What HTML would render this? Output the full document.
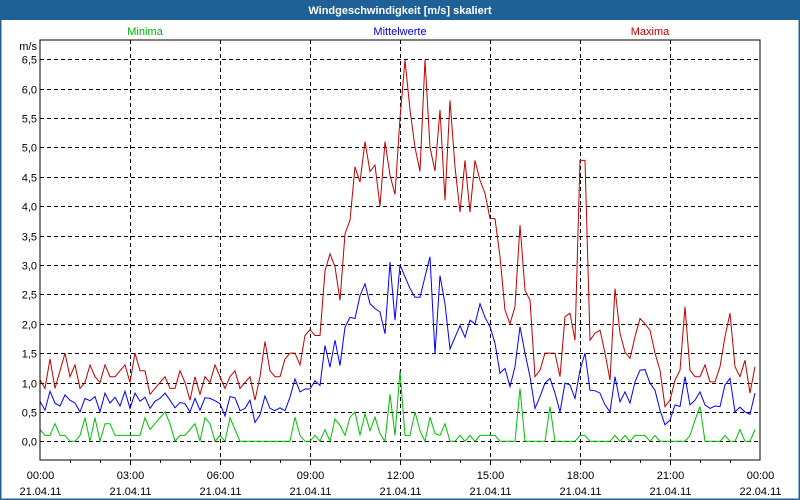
<!DOCTYPE html>
<html><head><meta charset="utf-8"><style>
body{margin:0;background:#fff;}
#wrap{position:relative;width:800px;height:500px;overflow:hidden;background:#fff;}
svg text{font-family:"Liberation Sans",sans-serif;font-size:11px;}
</style></head><body>
<div id="wrap">
<svg id="chart" width="800" height="500" xmlns="http://www.w3.org/2000/svg">
<rect x="0" y="0" width="800" height="500" fill="#fff" stroke="#1f6096" stroke-width="3"/>
<rect x="0" y="0" width="800" height="20" fill="#1f6096"/>
<text x="400" y="14" text-anchor="middle" fill="#fff" font-weight="bold">Windgeschwindigkeit [m/s] skaliert</text>
<text x="145" y="35" text-anchor="middle" fill="#00b000">Minima</text>
<text x="400" y="35" text-anchor="middle" fill="#0000e0">Mittelwerte</text>
<text x="650" y="35" text-anchor="middle" fill="#c00000">Maxima</text>
<text x="37" y="50" text-anchor="end" fill="#000">m/s</text>
<g id="grid"></g>
<g id="series"></g>
<rect x="40" y="40" width="720" height="420" fill="none" stroke="#000" stroke-width="1"/>
</svg>
</div>
<script>
const yTicks=[0,0.5,1,1.5,2,2.5,3,3.5,4,4.5,5,5.5,6,6.5];
const yTickLabels=["0,0","0,5","1,0","1,5","2,0","2,5","3,0","3,5","4,0","4,5","5,0","5,5","6,0","6,5"];
const xTickHours=[0,3,6,9,12,15,18,21,24];
const xTickTimes=["00:00","03:00","06:00","09:00","12:00","15:00","18:00","21:00","00:00"];
const xTickDates=["21.04.11","21.04.11","21.04.11","21.04.11","21.04.11","21.04.11","21.04.11","21.04.11","22.04.11"];
const maxima=[1.05,0.9,1.4,0.9,1.2,1.5,1.1,1.3,0.9,1.0,1.3,1.1,1.0,1.3,1.1,1.1,1.2,1.3,1.0,1.5,1.2,1.2,0.8,0.9,1.0,1.1,0.9,0.9,1.2,1.0,0.7,1.1,0.8,1.1,1.0,1.3,1.1,0.9,1.1,1.2,0.9,1.0,1.1,0.7,1.1,1.7,1.2,1.1,1.1,1.4,1.5,1.5,1.3,1.8,1.9,1.8,1.8,
2.9,3.19,2.97,2.4,3.53,3.76,4.67,4.41,5.1,4.59,4.7,4.0,5.1,4.53,4.2,5.5,6.49,5.64,5.0,4.59,6.49,5.0,4.6,5.64,4.1,5.8,4.67,3.9,4.78,3.9,4.78,4.44,4.22,3.79,3.79,3.14,2.23,2.0,2.29,3.68,2.57,2.4,1.1,1.21,1.5,1.5,1.5,1.1,2.12,2.18,1.72,4.78,4.78,1.72,1.84,1.89,1.5,1.04,2.6,1.84,1.52,1.41,1.78,2.09,2.0,1.89,1.5,1.21,0.59,0.7,1.04,1.21,2.29,1.21,1.1,1.1,1.3,1.01,1.01,1.27,1.78,2.18,1.27,1.1,1.38,0.82,1.27];
const mittelwerte=[0.68,0.53,0.85,0.65,0.6,0.79,0.7,0.65,0.5,0.73,0.69,0.76,0.5,0.82,0.65,0.75,0.6,0.85,0.56,0.82,0.68,0.75,0.56,0.68,0.73,0.82,0.7,0.57,0.66,0.64,0.5,0.73,0.53,0.74,0.73,0.69,0.64,0.43,0.76,0.74,0.52,0.56,0.7,0.32,0.45,0.77,0.56,0.52,0.57,0.52,0.75,1.06,0.84,0.89,0.89,1.03,0.95,
1.63,1.26,1.72,1.29,1.94,2.11,2.09,2.48,2.68,2.34,2.26,2.2,1.83,3.05,2.06,3.0,2.8,2.6,2.45,2.45,2.8,3.14,1.49,2.82,2.34,1.57,1.77,1.97,1.77,2.06,2.0,2.34,2.11,1.95,1.67,1.16,1.24,0.93,1.27,1.95,1.5,1.1,0.56,0.76,0.99,1.07,0.82,0.5,0.99,0.96,0.73,1.21,1.5,0.87,0.86,0.82,0.62,0.5,1.1,0.67,0.84,0.65,1.01,1.21,1.22,0.99,0.87,0.53,0.28,0.36,0.62,0.59,1.1,0.62,0.7,0.84,0.62,0.56,0.6,0.59,0.96,1.07,0.5,0.58,0.5,0.46,0.82];
const minima=[0.2,0.1,0.1,0.3,0.1,0.1,0,0,0.1,0.4,0,0.4,0,0.3,0.3,0.1,0.1,0.1,0.1,0.1,0.1,0.4,0.2,0.3,0.4,0.5,0.3,0,0.1,0.1,0.2,0.3,0,0.4,0.3,0,0.1,0,0.4,0.2,0,0,0,0,0,0,0,0,0,0,0,0.41,0.1,0,0,0.1,0,
0.2,0,0.38,0.27,0.1,0.41,0.5,0.1,0.47,0.18,0.41,0.13,0,0.8,0.1,1.2,0.1,0.1,0.5,0.18,0,0.41,0.13,0.1,0.3,0,0,0.1,0,0.1,0,0.1,0.1,0.1,0.1,0,0,0,0,0.9,0,0,0,0,0,0.59,0,0,0,0,0,0.1,0.1,0,0,0,0,0,0.1,0,0.1,0,0.1,0.1,0.1,0,0.1,0,0,0,0,0,0,0.1,0.36,0.59,0,0,0,0,0.1,0,0,0.2,0,0,0.2];

const X0=40,X1=760,Y0=441.3,YPU=58.77;
const stepMin=10;
function xHour(h){return X0+(X1-X0)*h/24;}
function xIdx(i){return xHour(i*stepMin/60);}
function yVal(v){return Y0-v*YPU;}
const NS="http://www.w3.org/2000/svg";
const grid=document.getElementById('grid');
const series=document.getElementById('series');
const svg=document.getElementById('chart');
function mk(tag,attrs,parent){const e=document.createElementNS(NS,tag);for(const k in attrs)e.setAttribute(k,attrs[k]);parent.appendChild(e);return e;}

yTicks.forEach((v,i)=>{
  const y=Math.round(yVal(v))+0.5;
  const l=mk('line',{x1:X0,x2:X1,y1:y,y2:y,stroke:'#000','stroke-dasharray':'4,3','stroke-width':1},grid);
  
  
  const t=mk('text',{x:37,y:y+4,'text-anchor':'end',fill:'#000'},svg);
  t.textContent=yTickLabels[i];
  
  
});
for(let h=1;h<24;h++){
  const x=Math.round(xHour(h))+0.5;
  const tk=mk('line',{x1:x,x2:x,y1:460,y2:(h%3===0?465:463),stroke:'#000'},grid);
  
  
}
xTickHours.forEach((h,i)=>{
  const x=Math.round(xHour(h))+0.5;
  if(h>0&&h<24){
    const l=mk('line',{x1:x,x2:x,y1:X0,y2:460,stroke:'#000','stroke-dasharray':'4,3'},grid);
    
    
  }
  const t1=mk('text',{x:x,y:479,'text-anchor':'middle',fill:'#000'},svg);
  t1.textContent=xTickTimes[i];
  
  
  const t2=mk('text',{x:x,y:495,'text-anchor':'middle',fill:'#000'},svg);
  t2.textContent=xTickDates[i];
  
  
});
function line(arr,color,name){
  const pts=arr.map((v,i)=>xIdx(i).toFixed(1)+','+yVal(v).toFixed(1)).join(' ');
  const p=mk('polyline',{points:pts,fill:'none',stroke:color,'stroke-width':1},series);
  
  
}
line(minima,'#00c000','minima-line');
line(mittelwerte,'#0000ff','mittelwerte-line');
line(maxima,'#c00000','maxima-line');
</script>
</body></html>
